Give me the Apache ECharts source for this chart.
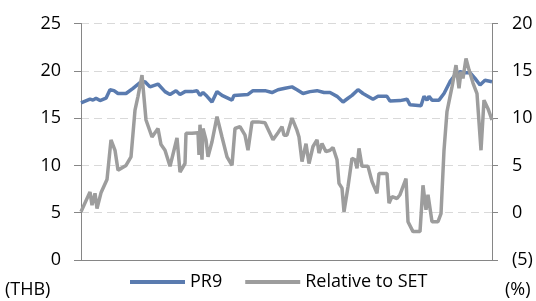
<!DOCTYPE html>
<html>
<head>
<meta charset="utf-8">
<script src="https://cdn.jsdelivr.net/npm/echarts@6/dist/echarts.min.js"></script>
<style>
  html, body { margin: 0; padding: 0; background: #fff; }
  #chart { width: 536px; height: 301px; }
</style>
</head>
<body>
<div id="chart"></div>
<script>
// Trading-day index (0 = first day shown) and values
const pr9Days = [0, 9, 12, 15, 19, 25, 29, 33, 37, 45, 52, 59, 64, 69, 77, 84, 89, 95, 99, 104,
    111, 116, 119, 122, 126, 131, 136, 141, 151, 153, 167, 172, 184, 191, 197, 204, 211, 216, 222, 229,
    236, 243, 249, 256, 262, 267, 271, 277, 282, 292, 297, 306, 309, 319, 326, 329, 340, 343, 346, 348,
    351, 358, 363, 369, 374, 379, 384, 389, 394, 399, 404, 411];
const pr9Price = [16.6, 17.0, 16.9, 17.1, 16.85, 17.1, 18.0, 17.9, 17.6, 17.6, 18.15, 18.75, 18.85, 18.3, 18.6, 17.8, 17.5, 17.9, 17.5, 17.8,
    17.8, 17.9, 17.4, 17.7, 17.3, 16.7, 17.8, 17.4, 16.9, 17.4, 17.5, 17.9, 17.9, 17.7, 18.0, 18.15, 18.3, 18.0, 17.6, 17.8,
    17.9, 17.7, 17.7, 17.3, 16.7, 17.1, 17.4, 18.0, 17.6, 17.0, 17.3, 17.3, 16.8, 16.85, 17.0, 16.4, 16.3, 17.3, 16.9, 17.3,
    16.9, 16.9, 17.6, 18.85, 19.55, 19.9, 19.8, 19.8, 19.2, 18.5, 19.0, 18.85];

const relDays = [0, 9, 11, 14, 16, 20, 26, 30, 34, 37, 45, 47, 50, 54, 57, 61, 65, 71, 77, 80,
    84, 89, 96, 99, 104, 105, 106, 111, 117, 118, 119, 121, 122, 125, 127, 131, 136, 141, 146, 151,
    154, 159, 164, 167, 171, 177, 184, 186, 192, 197, 201, 203, 206, 211, 216, 218, 221, 225, 228, 232,
    236, 238, 241, 245, 249, 252, 256, 258, 261, 263, 267, 271, 274, 276, 278, 281, 287, 291, 296, 298,
    306, 308, 311, 316, 319, 321, 325, 327, 332, 339, 342, 345, 347, 351, 357, 360, 363, 366, 371, 375,
    378, 380, 382, 385, 388, 392, 396, 400, 403, 407, 411];
const relSet = [0.1, 2.2, 0.8, 2.05, 0.45, 2.1, 3.5, 7.7, 6.6, 4.5, 5.0, 4.9, 5.9, 10.85, 12.3, 14.55, 9.8, 8.0, 8.9, 7.2,
    6.6, 4.9, 7.9, 4.3, 5.2, 8.4, 8.2, 8.4, 8.45, 6.1, 9.3, 5.6, 8.9, 7.7, 5.9, 7.5, 10.15, 8.0, 5.9, 5.0,
    8.9, 9.1, 8.2, 6.6, 9.6, 9.6, 9.5, 9.3, 7.7, 8.45, 9.1, 8.2, 8.2, 10.0, 8.7, 8.0, 5.4, 7.3, 5.2, 7.0,
    7.7, 6.3, 7.3, 6.45, 6.6, 6.9, 5.6, 3.1, 2.6, 0.1, 2.75, 5.75, 5.6, 4.7, 6.8, 4.9, 4.9, 3.3, 2.05, 4.15,
    4.15, 1.0, 1.7, 1.5, 1.9, 1.9, 3.6, -0.95, -2.0, -2.0, 2.9, 0.3, 1.9, -0.95, -0.95, -0.1, 6.6, 10.7, 13.3, 15.6,
    13.15, 14.9, 14.2, 16.3, 15.1, 13.7, 12.6, 6.6, 11.9, 11.0, 9.8];

const seriesNames = ['PR9', 'Relative to SET'];
const leftAxisName = '(THB)';
const rightAxisName = '(%)';

const FONT = '"Open Sans", sans-serif';
const FONT_SIZE = 18;
const AXIS_GRAY = '#868686';
const BLUE = '#5A7BAF';
const GRAY = '#9D9D9D';

const chart = echarts.init(document.getElementById('chart'), null, { renderer: 'canvas' });

function pairs(xs, ys) {
    return xs.map((x, i) => [x, ys[i]]);
}

chart.setOption({
    animation: false,
    textStyle: { fontFamily: FONT },
    grid: { left: 81, right: 44, top: 23.5, bottom: 41 },
    legend: {
        left: 125,
        top: 268,
        icon: 'rect',
        itemWidth: 55,
        itemHeight: 4,
        itemGap: 23,
        textStyle: { fontFamily: FONT, fontSize: FONT_SIZE, color: '#000' },
        data: seriesNames
    },
    xAxis: {
        type: 'value',
        min: 0,
        max: 411,
        axisLine: { show: true, onZero: false, lineStyle: { color: AXIS_GRAY, width: 1 } },
        axisTick: { show: false },
        axisLabel: { show: false },
        splitLine: { show: false }
    },
    yAxis: [{
        type: 'value',
        min: 0,
        max: 25,
        interval: 5,
        axisLine: { show: true, lineStyle: { color: AXIS_GRAY } },
        axisTick: { show: true, length: 7, lineStyle: { color: AXIS_GRAY } },
        axisLabel: { margin: 20, fontFamily: FONT, fontSize: FONT_SIZE, color: '#000' },
        splitLine: { show: true, lineStyle: { color: '#D9D9D9', type: [8, 5] } }
    }, {
        type: 'value',
        min: -5,
        max: 20,
        interval: 5,
        position: 'right',
        axisLine: { show: true, lineStyle: { color: AXIS_GRAY } },
        axisTick: { show: true, length: 6, lineStyle: { color: AXIS_GRAY } },
        axisLabel: {
            margin: 20,
            fontFamily: FONT,
            fontSize: FONT_SIZE,
            color: '#000',
            formatter: v => v < 0 ? '(' + (-v) + ')' : String(v)
        },
        splitLine: { show: false }
    }],
    graphic: [
        { type: 'text', left: 5, top: 281, style: { text: leftAxisName, font: FONT_SIZE + 'px ' + FONT, fill: '#000' } },
        { type: 'text', left: 505, top: 281, style: { text: rightAxisName, font: FONT_SIZE + 'px ' + FONT, fill: '#000' } }
    ],
    series: [{
        name: seriesNames[0],
        type: 'line',
        yAxisIndex: 0,
        symbol: 'none',
        lineStyle: { color: BLUE, width: 3.5 },
        itemStyle: { color: BLUE },
        data: pairs(pr9Days, pr9Price)
    }, {
        name: seriesNames[1],
        type: 'line',
        yAxisIndex: 1,
        symbol: 'none',
        lineStyle: { color: GRAY, width: 3.5 },
        itemStyle: { color: GRAY },
        data: pairs(relDays, relSet)
    }]
});
</script>
</body>
</html>
